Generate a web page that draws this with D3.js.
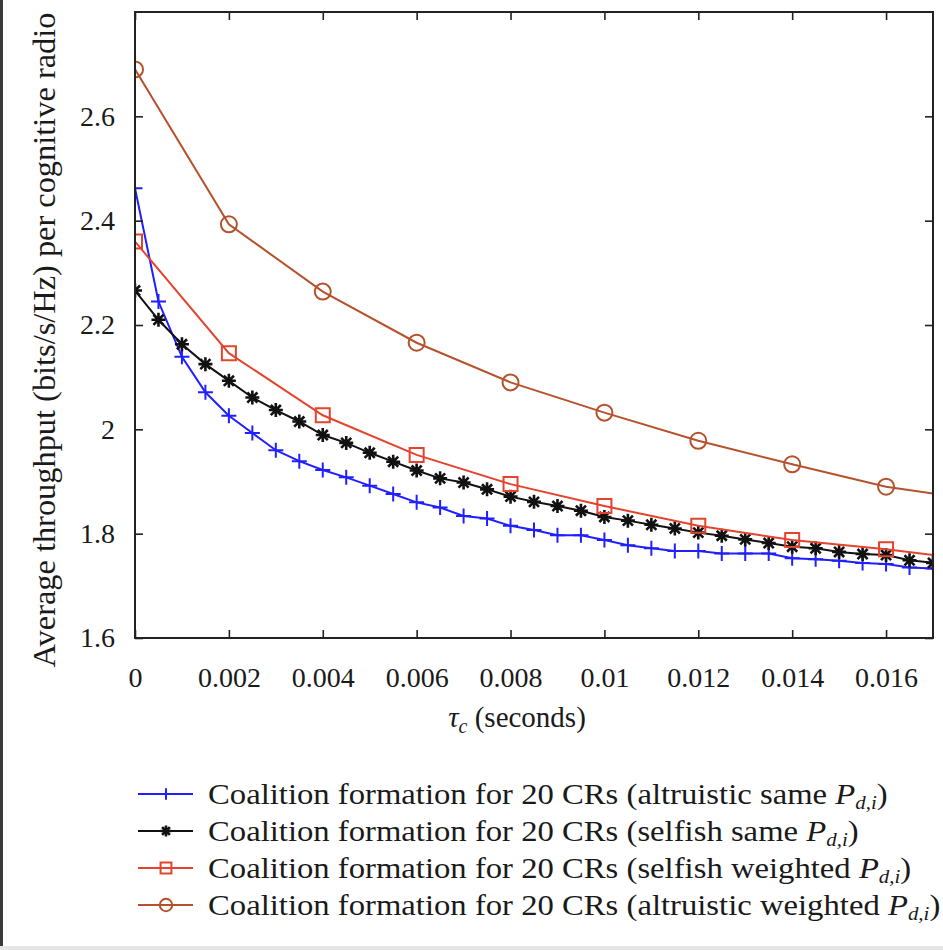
<!DOCTYPE html>
<html>
<head>
<meta charset="utf-8">
<script src="https://cdn.jsdelivr.net/npm/d3@7"></script>
<style>
  html, body { margin: 0; padding: 0; background: #fff; }
  svg { display: block; }
  text { font-family: "Liberation Serif", "DejaVu Serif", serif; fill: #1a1a1a; }
</style>
</head>
<body>
<svg id="chart" width="943" height="950"></svg>
<script>
// ---------------- data ----------------
const tauFine = [0, 0.0005, 0.001, 0.0015, 0.002, 0.0025, 0.003, 0.0035, 0.004, 0.0045,
  0.005, 0.0055, 0.006, 0.0065, 0.007, 0.0075, 0.008, 0.0085, 0.009, 0.0095,
  0.01, 0.0105, 0.011, 0.0115, 0.012, 0.0125, 0.013, 0.0135, 0.014, 0.0145,
  0.015, 0.0155, 0.016, 0.0165, 0.017];
const altruisticSame = [2.462, 2.245, 2.139, 2.071, 2.026, 1.993, 1.960, 1.939, 1.922, 1.908,
  1.892, 1.876, 1.860, 1.850, 1.834, 1.829, 1.815, 1.807, 1.797, 1.797,
  1.788, 1.778, 1.772, 1.767, 1.767, 1.762, 1.762, 1.762, 1.753, 1.751,
  1.748, 1.744, 1.742, 1.735, 1.733];
const selfishSame = [2.266, 2.210, 2.163, 2.125, 2.093, 2.061, 2.037, 2.015, 1.989, 1.974,
  1.955, 1.938, 1.921, 1.906, 1.898, 1.885, 1.871, 1.861, 1.853, 1.844,
  1.832, 1.825, 1.817, 1.810, 1.802, 1.796, 1.789, 1.782, 1.775, 1.772,
  1.765, 1.761, 1.759, 1.749, 1.744];
const tauCoarse = [0, 0.002, 0.004, 0.006, 0.008, 0.01, 0.012, 0.014, 0.016, 0.018];
const selfishWeighted = [2.360, 2.146, 2.027, 1.951, 1.895, 1.853, 1.815, 1.788, 1.770, 1.748];
const altruisticWeighted = [2.690, 2.393, 2.264, 2.166, 2.090, 2.032, 1.978, 1.933, 1.890, 1.864];

const xTickValues = [0, 0.002, 0.004, 0.006, 0.008, 0.01, 0.012, 0.014, 0.016];
const xTickLabels = ["0", "0.002", "0.004", "0.006", "0.008", "0.01", "0.012", "0.014", "0.016"];
const yTickValues = [1.6, 1.8, 2.0, 2.2, 2.4, 2.6];
const yTickLabels = ["1.6", "1.8", "2", "2.2", "2.4", "2.6"];

const seriesNames = [
  "Coalition formation for 20 CRs (altruistic same ",
  "Coalition formation for 20 CRs (selfish same ",
  "Coalition formation for 20 CRs (selfish weighted ",
  "Coalition formation for 20 CRs (altruistic weighted "
];
const yLabel = "Average throughput (bits/s/Hz) per cognitive radio";

// ---------------- layout ----------------
const svg = d3.select("#chart");
const L = 135, R = 933, T = 12, B = 638;
const x = d3.scaleLinear().domain([0, 0.017]).range([L, R]);
const y = d3.scaleLinear().domain([1.6, 2.8]).range([B, T]);

// page edges as in the scan
svg.append("rect").attr("x", 0).attr("y", 0).attr("width", 943).attr("height", 950).attr("fill", "#fff");
svg.append("rect").attr("x", 0).attr("y", 0).attr("width", 3).attr("height", 950).attr("fill", "#3a3a3a");
svg.append("rect").attr("x", 0).attr("y", 946).attr("width", 943).attr("height", 4).attr("fill", "#e6e6e6");

// custom marker symbols
const plusSym = { draw(c, s) { const r = Math.sqrt(s) / 2; c.moveTo(-r, 0); c.lineTo(r, 0); c.moveTo(0, -r); c.lineTo(0, r); } };
const starSym = { draw(c, s) { const r = Math.sqrt(s) / 2, d = r * 0.72;
  c.moveTo(-r, 0); c.lineTo(r, 0); c.moveTo(0, -r); c.lineTo(0, r);
  c.moveTo(-d, -d); c.lineTo(d, d); c.moveTo(-d, d); c.lineTo(d, -d); } };
const squareSym = { draw(c, s) { const r = Math.sqrt(s) / 2; c.rect(-r, -r, 2 * r, 2 * r); } };
const circleSym = { draw(c, s) { const r = Math.sqrt(s) / 2; c.moveTo(r, 0); c.arc(0, 0, r, 0, 2 * Math.PI); } };

const series = [
  { xs: tauFine, ys: altruisticSame, color: "#1f1fff", sym: plusSym, size: 15 * 15, sw: 2 },
  { xs: tauFine, ys: selfishSame, color: "#111111", sym: starSym, size: 14 * 14, sw: 2.6 },
  { xs: tauCoarse, ys: selfishWeighted, color: "#e4432e", sym: squareSym, size: 14 * 14, sw: 2 },
  { xs: tauCoarse, ys: altruisticWeighted, color: "#b5522c", sym: circleSym, size: 16 * 16, sw: 2 }
];

svg.append("defs").append("clipPath").attr("id", "plotclip")
  .append("rect").attr("x", L).attr("y", T).attr("width", R - L).attr("height", B - T);

const plot = svg.append("g").attr("clip-path", "url(#plotclip)");
const line = d3.line().x(d => x(d[0])).y(d => y(d[1]));

series.forEach(s => {
  const pts = s.xs.map((v, i) => [v, s.ys[i]]);
  plot.append("path").datum(pts).attr("d", line)
    .attr("fill", "none").attr("stroke", s.color).attr("stroke-width", 2);
  plot.selectAll(null).data(pts).enter().append("path")
    .attr("transform", d => `translate(${x(d[0])},${y(d[1])})`)
    .attr("d", d3.symbol().type(s.sym).size(s.size))
    .attr("fill", "none").attr("stroke", s.color).attr("stroke-width", s.sw);
});

// axes (ticks inside, on all four sides)
const tickLen = 8;
const axB = svg.append("g").attr("transform", `translate(0,${B})`)
  .call(d3.axisBottom(x).tickValues(xTickValues).tickSize(-tickLen).tickPadding(49)
    .tickFormat((d, i) => xTickLabels[i]));
const axT = svg.append("g").attr("transform", `translate(0,${T})`)
  .call(d3.axisTop(x).tickValues(xTickValues).tickSize(-tickLen).tickFormat(""));
const axL = svg.append("g").attr("transform", `translate(${L},0)`)
  .call(d3.axisLeft(y).tickValues(yTickValues).tickSize(-tickLen).tickPadding(20)
    .tickFormat((d, i) => yTickLabels[i]));
const axRt = svg.append("g").attr("transform", `translate(${R},0)`)
  .call(d3.axisRight(y).tickValues(yTickValues).tickSize(-tickLen).tickFormat(""));
[axB, axT, axL, axRt].forEach(a => {
  a.select(".domain").remove();
  a.selectAll(".tick line").attr("stroke", "#222").attr("stroke-width", 1.6);
  a.selectAll(".tick text").attr("font-family", "Liberation Serif").attr("font-size", 28).attr("fill", "#1a1a1a");
});
axB.selectAll(".tick text").attr("dy", "0");
svg.append("rect").attr("x", L).attr("y", T).attr("width", R - L).attr("height", B - T)
  .attr("fill", "none").attr("stroke", "#222").attr("stroke-width", 2);

// axis titles
const xt = svg.append("text").attr("x", 517).attr("y", 727).attr("text-anchor", "middle")
  .attr("font-size", 29);
xt.append("tspan").attr("font-style", "italic").text("τ");
xt.append("tspan").attr("font-style", "italic").attr("font-size", 20).attr("dy", 6).text("c");
xt.append("tspan").attr("dy", -6).text(" (seconds)");

const yt = svg.append("text").attr("transform", `translate(55,${340}) rotate(-90)`)
  .attr("text-anchor", "middle").attr("font-size", 28).text(yLabel);
// fit to the length seen in the reference
const yl = yt.node().getComputedTextLength();
yt.attr("font-size", 28 * 655 / yl);

// legend
const legRows = [794, 831, 868, 905];
const legFont = 29.5;
const legTexts = [];
series.forEach((s, i) => {
  const g = svg.append("g");
  g.append("line").attr("x1", 138).attr("x2", 193).attr("y1", legRows[i]).attr("y2", legRows[i])
    .attr("stroke", s.color).attr("stroke-width", 2);
  g.append("path").attr("transform", `translate(166,${legRows[i]})`)
    .attr("d", d3.symbol().type(s.sym).size(s.size * 0.6))
    .attr("fill", "none").attr("stroke", s.color).attr("stroke-width", s.sw);
  const tg = g.append("g").attr("transform", `translate(208,${legRows[i] + 10})`);
  const t = tg.append("text").attr("x", 0).attr("y", 0).attr("font-size", legFont);
  t.append("tspan").text(seriesNames[i]);
  t.append("tspan").attr("font-style", "italic").text("P");
  t.append("tspan").attr("font-style", "italic").attr("font-size", legFont * 0.64).attr("dy", 5).text("d,i");
  t.append("tspan").attr("dy", -5).text(")");
  legTexts.push(tg);
});
// stretch legend text horizontally to the reference width (first row spans 208..888)
const w0 = legTexts[0].select("text").node().getComputedTextLength();
const sx = 680 / w0;
legTexts.forEach((tg, i) => tg.attr("transform", `translate(208,${legRows[i] + 10}) scale(${sx},1)`));
</script>
</body>
</html>
